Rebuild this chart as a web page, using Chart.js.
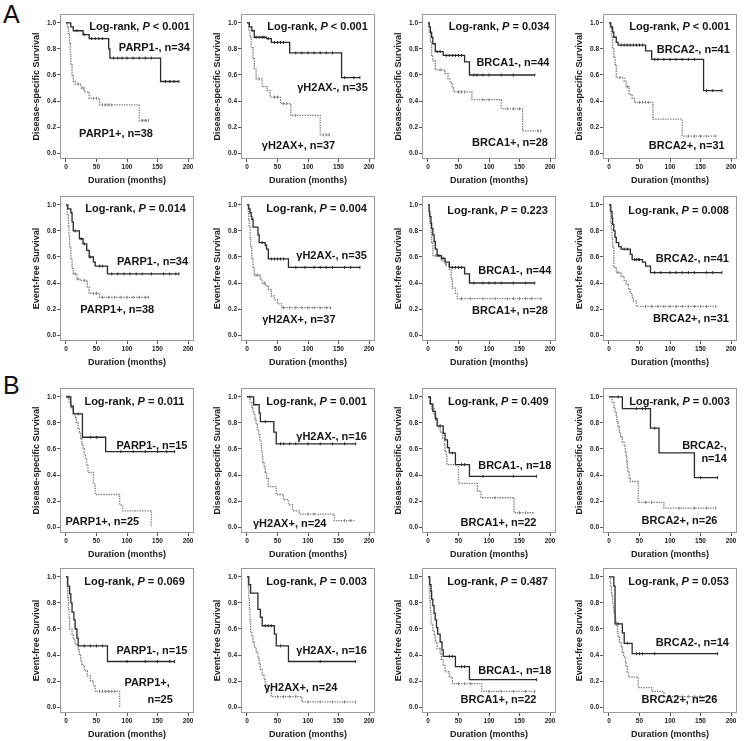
<!DOCTYPE html>
<html><head><meta charset="utf-8">
<script src="https://cdn.jsdelivr.net/npm/chart.js@4/dist/chart.umd.min.js"></script>
<style>
html,body{margin:0;padding:0;background:#fff;}
#wrap{position:relative;width:744px;height:741px;overflow:hidden;font-family:"Liberation Sans",Arial,sans-serif;}
.plabel{position:absolute;font-size:25px;line-height:25px;color:#111;}
canvas{position:absolute;}
</style></head><body><div id="wrap"><div class="plabel" style="left:3px;top:2px">A</div><div class="plabel" style="left:3px;top:373px">B</div></div>
<script>
// ---------- tick labels & categories ----------
const xTicks = [0, 50, 100, 150, 200];
const yTicks = [0, 0.2, 0.4, 0.6, 0.8, 1.0];
const markers = ['PARP1', 'γH2AX', 'BRCA1', 'BRCA2'];
const nNegA = [34, 35, 44, 41];
const nPosA = [38, 37, 28, 31];
const nNegB = [15, 16, 18, 14];
const nPosB = [25, 24, 22, 26];
const pDssA = ['< 0.001', '< 0.001', '= 0.034', '< 0.001'];
const pEfsA = ['= 0.014', '= 0.004', '= 0.223', '= 0.008'];
const pDssB = ['= 0.011', '= 0.001', '= 0.409', '= 0.003'];
const pEfsB = ['= 0.069', '= 0.003', '= 0.487', '= 0.053'];

// ---------- Kaplan-Meier curves: [months, survival] ----------
// A: disease-specific survival
const dssA_PARP1_neg = [[0,1],[8,0.97],[12,0.94],[28,0.91],[38,0.88],[70,0.80],[72,0.73],[155,0.55],[185,0.55]];
const dssA_PARP1_negC = [18,30,42,48,54,60,78,85,92,100,110,120,130,140,163,170,177,185];
const dssA_PARP1_pos = [[0,1],[2,0.97],[4,0.92],[6,0.84],[7,0.76],[8,0.68],[10,0.60],[12,0.55],[15,0.53],[25,0.50],[30,0.47],[38,0.42],[55,0.37],[120,0.25],[135,0.25]];
const dssA_PARP1_posC = [20,28,45,50,60,65,70,75,125,130,135];
const dssA_H2AX_neg = [[0,1],[4,0.97],[8,0.94],[12,0.89],[32,0.88],[40,0.85],[70,0.77],[155,0.58],[185,0.58]];
const dssA_H2AX_negC = [15,20,25,28,35,45,50,55,60,80,90,100,110,120,130,140,160,175,185];
const dssA_H2AX_pos = [[0,1],[3,0.95],[5,0.89],[7,0.81],[10,0.73],[12,0.65],[15,0.57],[25,0.51],[33,0.48],[38,0.43],[55,0.38],[72,0.29],[120,0.14],[135,0.14]];
const dssA_H2AX_posC = [20,45,50,60,65,80,125,130,135];
const dssA_BRCA1_neg = [[0,1],[2,0.97],[4,0.93],[6,0.89],[8,0.84],[12,0.78],[25,0.75],[60,0.70],[68,0.60],[175,0.60]];
const dssA_BRCA1_negC = [15,20,30,35,40,45,50,55,75,80,90,100,120,140,175];
const dssA_BRCA1_pos = [[0,1],[2,0.93],[4,0.86],[6,0.75],[8,0.71],[12,0.64],[28,0.61],[33,0.57],[36,0.54],[40,0.51],[42,0.47],[72,0.41],[120,0.34],[155,0.17],[185,0.17]];
const dssA_BRCA1_posC = [20,50,55,60,90,100,130,140,150,180,185];
const dssA_BRCA2_neg = [[0,1],[3,0.97],[6,0.93],[8,0.89],[12,0.85],[15,0.83],[60,0.785],[70,0.72],[155,0.48],[185,0.48]];
const dssA_BRCA2_negC = [20,25,30,35,40,45,50,55,75,80,90,100,110,120,130,140,160,170,185];
const dssA_BRCA2_pos = [[0,1],[2,0.97],[4,0.90],[6,0.80],[8,0.74],[10,0.68],[12,0.58],[25,0.55],[28,0.51],[33,0.45],[38,0.42],[42,0.39],[72,0.26],[120,0.13],[175,0.13]];
const dssA_BRCA2_posC = [18,30,50,55,60,65,130,140,150,160,175];
// A: event-free survival
const efsA_PARP1_neg = [[0,1],[3,0.97],[8,0.94],[10,0.87],[12,0.80],[22,0.74],[28,0.70],[34,0.65],[38,0.60],[45,0.56],[48,0.53],[68,0.47],[185,0.47]];
const efsA_PARP1_negC = [15,25,30,40,55,60,75,85,95,105,115,125,140,160,170,180,185];
const efsA_PARP1_pos = [[0,1],[2,0.92],[4,0.84],[5,0.76],[6,0.68],[8,0.58],[10,0.51],[12,0.47],[18,0.43],[25,0.42],[35,0.37],[38,0.32],[55,0.29],[135,0.29]];
const efsA_PARP1_posC = [15,20,30,45,50,60,70,80,90,100,110,120,130,135];
const efsA_H2AX_neg = [[0,1],[3,0.97],[5,0.94],[7,0.91],[8,0.89],[10,0.83],[18,0.77],[20,0.71],[30,0.69],[32,0.66],[35,0.585],[68,0.52],[185,0.52]];
const efsA_H2AX_negC = [25,40,45,50,55,60,80,95,110,120,130,140,160,170,185];
const efsA_H2AX_pos = [[0,1],[2,0.95],[3,0.89],[4,0.83],[5,0.75],[6,0.68],[8,0.59],[10,0.52],[12,0.46],[22,0.43],[25,0.40],[30,0.38],[35,0.35],[40,0.30],[45,0.27],[50,0.24],[57,0.21],[137,0.21]];
const efsA_H2AX_posC = [15,18,28,60,70,80,90,100,110,120,130,137];
const efsA_BRCA1_neg = [[0,1],[2,0.95],[3,0.91],[5,0.86],[6,0.82],[8,0.77],[10,0.72],[12,0.66],[15,0.61],[22,0.59],[28,0.56],[35,0.52],[60,0.47],[68,0.40],[175,0.40]];
const efsA_BRCA1_negC = [18,25,40,45,50,55,75,90,100,110,120,140,160,175];
const efsA_BRCA1_pos = [[0,1],[2,0.93],[3,0.86],[5,0.79],[6,0.71],[8,0.61],[22,0.57],[28,0.54],[35,0.50],[38,0.43],[40,0.36],[45,0.32],[48,0.28],[185,0.28]];
const efsA_BRCA1_posC = [12,15,18,30,55,70,90,110,130,140,150,160,170,185];
const efsA_BRCA2_neg = [[0,1],[3,0.95],[5,0.90],[6,0.85],[8,0.80],[10,0.75],[12,0.71],[16,0.68],[20,0.66],[35,0.62],[38,0.58],[55,0.56],[60,0.53],[68,0.48],[185,0.48]];
const efsA_BRCA2_negC = [25,30,42,45,48,50,75,85,100,110,120,130,140,160,170,185];
const efsA_BRCA2_pos = [[0,1],[2,0.94],[3,0.87],[4,0.81],[5,0.74],[6,0.68],[8,0.52],[12,0.48],[20,0.45],[25,0.42],[28,0.39],[32,0.35],[35,0.32],[38,0.29],[40,0.26],[45,0.22],[175,0.22]];
const efsA_BRCA2_posC = [15,60,70,80,90,100,110,120,130,140,150,160,175];
// B: disease-specific survival
const dssB_PARP1_neg = [[0,1],[8,0.93],[12,0.87],[27,0.69],[65,0.58],[178,0.58]];
const dssB_PARP1_negC = [5,20,40,50,90,110,130,150,165,178];
const dssB_PARP1_pos = [[0,1],[5,0.96],[8,0.92],[12,0.88],[15,0.84],[17,0.80],[20,0.76],[22,0.72],[24,0.68],[26,0.64],[28,0.60],[30,0.56],[32,0.52],[34,0.48],[36,0.42],[45,0.33],[48,0.25],[88,0.17],[93,0.125],[140,0]];
const dssB_PARP1_posC = [3,10];
const dssB_H2AX_neg = [[0,1],[11,0.94],[20,0.875],[22,0.81],[44,0.73],[48,0.64],[178,0.64]];
const dssB_H2AX_negC = [5,30,55,60,70,80,100,120,140,160,178];
const dssB_H2AX_pos = [[0,1],[5,0.96],[8,0.92],[10,0.875],[13,0.83],[15,0.79],[17,0.75],[19,0.71],[21,0.67],[23,0.625],[24,0.58],[25,0.54],[26,0.50],[28,0.46],[30,0.42],[32,0.375],[35,0.31],[48,0.25],[60,0.21],[68,0.17],[75,0.125],[86,0.10],[143,0.05],[176,0.05]];
const dssB_H2AX_posC = [100,110,160,170];
const dssB_BRCA1_neg = [[0,1],[4,0.944],[8,0.889],[12,0.833],[15,0.778],[25,0.72],[28,0.67],[32,0.61],[35,0.57],[45,0.48],[68,0.39],[178,0.39]];
const dssB_BRCA1_negC = [20,40,55,60,90,140,178];
const dssB_BRCA1_pos = [[0,1],[3,0.95],[6,0.91],[10,0.86],[13,0.82],[16,0.77],[20,0.73],[24,0.68],[27,0.64],[28,0.59],[30,0.55],[31,0.48],[50,0.335],[81,0.276],[87,0.225],[141,0.11],[175,0.11]];
const dssB_BRCA1_posC = [110,150,160];
const dssB_BRCA2_neg = [[0,1],[22,0.91],[68,0.76],[82,0.57],[140,0.38],[178,0.38]];
const dssB_BRCA2_negC = [15,45,55,60,75,150,178];
const dssB_BRCA2_pos = [[0,1],[5,0.96],[8,0.92],[10,0.88],[12,0.85],[13,0.81],[15,0.77],[17,0.73],[19,0.69],[22,0.65],[25,0.62],[27,0.58],[28,0.54],[29,0.50],[30,0.46],[31,0.42],[33,0.38],[35,0.35],[48,0.19],[90,0.145],[175,0.145]];
const dssB_BRCA2_posC = [60,70,115,140,160,175];
// B: event-free survival
const efsB_PARP1_neg = [[0,1],[3,0.93],[6,0.87],[8,0.80],[10,0.73],[13,0.67],[15,0.60],[18,0.53],[20,0.47],[68,0.35],[178,0.35]];
const efsB_PARP1_negC = [30,40,50,60,100,130,150,170,178];
const efsB_PARP1_pos = [[0,1],[2,0.92],[3,0.84],[4,0.76],[5,0.68],[6,0.60],[10,0.56],[12,0.52],[15,0.48],[20,0.44],[22,0.40],[24,0.36],[26,0.32],[30,0.28],[35,0.24],[40,0.20],[45,0.16],[48,0.12],[88,0]];
const efsB_PARP1_posC = [55,60,65,70,75,80];
const efsB_H2AX_neg = [[0,1],[3,0.94],[6,0.875],[18,0.75],[22,0.69],[25,0.625],[45,0.56],[48,0.47],[68,0.35],[178,0.35]];
const efsB_H2AX_negC = [30,35,40,55,120,178];
const efsB_H2AX_pos = [[0,1],[2,0.92],[3,0.83],[4,0.75],[5,0.67],[6,0.58],[8,0.54],[10,0.50],[12,0.46],[15,0.42],[18,0.375],[20,0.33],[22,0.29],[25,0.25],[28,0.21],[30,0.17],[35,0.125],[40,0.08],[90,0.04],[178,0.04]];
const efsB_H2AX_posC = [50,60,70,80,100,120,140,160,178];
const efsB_BRCA1_neg = [[0,1],[3,0.94],[5,0.89],[6,0.83],[8,0.78],[10,0.72],[12,0.67],[14,0.61],[16,0.56],[20,0.50],[23,0.44],[25,0.39],[45,0.31],[68,0.21],[178,0.21]];
const efsB_BRCA1_negC = [35,40,55,60,178];
const efsB_BRCA1_pos = [[0,1],[2,0.91],[3,0.82],[4,0.73],[5,0.64],[8,0.59],[10,0.55],[12,0.50],[15,0.45],[20,0.41],[22,0.36],[25,0.32],[28,0.27],[35,0.23],[40,0.18],[88,0.12],[175,0.12]];
const efsB_BRCA1_posC = [50,60,70,100,120,140,160,175];
const efsB_BRCA2_neg = [[0,1],[8,0.93],[10,0.64],[22,0.57],[25,0.49],[38,0.41],[178,0.41]];
const efsB_BRCA2_negC = [15,30,45,50,55,75,178];
const efsB_BRCA2_pos = [[0,1],[2,0.96],[3,0.92],[4,0.88],[5,0.85],[6,0.81],[7,0.77],[8,0.73],[10,0.69],[11,0.65],[12,0.62],[14,0.58],[15,0.54],[17,0.50],[20,0.46],[22,0.42],[24,0.385],[27,0.35],[28,0.31],[30,0.27],[32,0.23],[48,0.15],[70,0.12],[90,0.08],[175,0.08]];
const efsB_BRCA2_posC = [120,130,140,150,175];

// ---------- layout (pixels / label anchor positions, not data) ----------
const colLeft = [60, 241, 422, 603];
const rowTop = [13, 195, 387, 567];
const BOX_W = 134, BOX_H = 146;
const labelPos = [
  {lr:[203,0.97], neg:[[203,0.81,'r']], pos:[[82,0.15,'c']]},
  {lr:[198,0.97], neg:[[198,0.50,'r']], pos:[[84.5,0.055,'c']]},
  {lr:[199,0.97], neg:[[199,0.69,'r']], pos:[[196.5,0.074,'r']]},
  {lr:[198,0.97], neg:[[198,0.79,'r']], pos:[[189.5,0.056,'r']]},
  {lr:[196.5,0.972], neg:[[200,0.56,'r']], pos:[[84,0.19,'c']]},
  {lr:[196.5,0.97], neg:[[196.5,0.61,'r']], pos:[[85,0.115,'c']]},
  {lr:[196.5,0.954], neg:[[202,0.49,'r']], pos:[[196.5,0.183,'r']]},
  {lr:[196.5,0.954], neg:[[196.5,0.585,'r']], pos:[[196.5,0.127,'r']]},
  {lr:[194,0.965], neg:[[199,0.62,'r']], pos:[[59.5,0.036,'c']]},
  {lr:[196.5,0.965], neg:[[196.5,0.69,'r']], pos:[[70,0.024,'c']]},
  {lr:[197.5,0.965], neg:[[202,0.468,'r']], pos:[[115.5,0.03,'c']]},
  {lr:[198,0.965], neg:[[193,0.625,'r'],[193,0.52,'r']], pos:[[115.5,0.043,'c']]},
  {lr:[194.7,0.96], neg:[[199,0.43,'r']], pos:[[170,0.186,'r'],[175,0.056,'r']]},
  {lr:[196.5,0.96], neg:[[196.5,0.43,'r']], pos:[[88,0.145,'c']]},
  {lr:[196.5,0.96], neg:[[202,0.28,'r']], pos:[[115.5,0.058,'c']]},
  {lr:[196.5,0.96], neg:[[196.5,0.49,'r']], pos:[[177.5,0.058,'r']]}
];

const FONT = '"Liberation Sans", Arial, Helvetica, sans-serif';
const SOLID = '#2a2a2a', DOT = '#7c7c7c', FRAME = '#9a9a9a', TXT = '#151515';

const curveRows = [
  {title:'Disease-specific Survival', p:pDssA, nNeg:nNegA, nPos:nPosA,
   curves:[[dssA_PARP1_neg,dssA_PARP1_negC,dssA_PARP1_pos,dssA_PARP1_posC],[dssA_H2AX_neg,dssA_H2AX_negC,dssA_H2AX_pos,dssA_H2AX_posC],[dssA_BRCA1_neg,dssA_BRCA1_negC,dssA_BRCA1_pos,dssA_BRCA1_posC],[dssA_BRCA2_neg,dssA_BRCA2_negC,dssA_BRCA2_pos,dssA_BRCA2_posC]]},
  {title:'Event-free Survival', p:pEfsA, nNeg:nNegA, nPos:nPosA,
   curves:[[efsA_PARP1_neg,efsA_PARP1_negC,efsA_PARP1_pos,efsA_PARP1_posC],[efsA_H2AX_neg,efsA_H2AX_negC,efsA_H2AX_pos,efsA_H2AX_posC],[efsA_BRCA1_neg,efsA_BRCA1_negC,efsA_BRCA1_pos,efsA_BRCA1_posC],[efsA_BRCA2_neg,efsA_BRCA2_negC,efsA_BRCA2_pos,efsA_BRCA2_posC]]},
  {title:'Disease-specific Survival', p:pDssB, nNeg:nNegB, nPos:nPosB,
   curves:[[dssB_PARP1_neg,dssB_PARP1_negC,dssB_PARP1_pos,dssB_PARP1_posC],[dssB_H2AX_neg,dssB_H2AX_negC,dssB_H2AX_pos,dssB_H2AX_posC],[dssB_BRCA1_neg,dssB_BRCA1_negC,dssB_BRCA1_pos,dssB_BRCA1_posC],[dssB_BRCA2_neg,dssB_BRCA2_negC,dssB_BRCA2_pos,dssB_BRCA2_posC]]},
  {title:'Event-free Survival', p:pEfsB, nNeg:nNegB, nPos:nPosB,
   curves:[[efsB_PARP1_neg,efsB_PARP1_negC,efsB_PARP1_pos,efsB_PARP1_posC],[efsB_H2AX_neg,efsB_H2AX_negC,efsB_H2AX_pos,efsB_H2AX_posC],[efsB_BRCA1_neg,efsB_BRCA1_negC,efsB_BRCA1_pos,efsB_BRCA1_posC],[efsB_BRCA2_neg,efsB_BRCA2_negC,efsB_BRCA2_pos,efsB_BRCA2_posC]]}
];

function survAt(curve, t) { let s = curve[0][1]; for (const [tt, ss] of curve) { if (tt <= t) s = ss; } return s; }
function pts(curve) { return curve.map(([x, y]) => ({x, y})); }

function drawParts(ctx, parts, x, y, align) {
  let w = 0;
  parts.forEach(p => { ctx.font = (p.it ? 'italic ' : '') + 'bold 11px ' + FONT; p.w = ctx.measureText(p.t).width; w += p.w; });
  let sx = align === 'r' ? x - w : (align === 'c' ? x - w / 2 : x);
  parts.forEach(p => { ctx.font = (p.it ? 'italic ' : '') + 'bold 11px ' + FONT; ctx.fillText(p.t, sx, y); sx += p.w; });
}

const wrap = document.getElementById('wrap');
curveRows.forEach((R, r) => {
  for (let c = 0; c < 4; c++) {
    const [neg, negC, pos, posC] = R.curves[c];
    const L = labelPos[r * 4 + c];
    const m = markers[c];
    let negLines = [m + '-, n=' + R.nNeg[c]];
    let posLines = [m + '+, n=' + R.nPos[c]];
    if (L.neg.length === 2) negLines = [m + '-,', 'n=' + R.nNeg[c]];
    if (L.pos.length === 2) posLines = [m + '+,', 'n=' + R.nPos[c]];
    const pval = R.p[c];

    const cv = document.createElement('canvas');
    const W = BOX_W + 36 + 8, H = BOX_H + 4 + 32;
    cv.width = W; cv.height = H;
    cv.style.left = (colLeft[c] - 36) + 'px';
    cv.style.top = (rowTop[r] - 4) + 'px';
    cv.style.width = W + 'px'; cv.style.height = H + 'px';
    wrap.appendChild(cv);

    const plug = {
      id: 'kmframe' + r + c,
      beforeDatasetsDraw(chart) {
        const {ctx, chartArea: a} = chart;
        ctx.save();
        ctx.strokeStyle = FRAME; ctx.lineWidth = 1;
        ctx.strokeRect(Math.round(a.left) + 0.5, Math.round(a.top) + 0.5, Math.round(a.right - a.left) - 1, Math.round(a.bottom - a.top) - 1);
        ctx.restore();
      },
      afterDatasetsDraw(chart) {
        const {ctx} = chart;
        const xs = chart.scales.x, ys = chart.scales.y;
        ctx.save();
        ctx.fillStyle = TXT; ctx.textBaseline = 'middle';
        drawParts(ctx, [{t:'Log-rank, '}, {t:'P', it:true}, {t:' ' + pval}], xs.getPixelForValue(L.lr[0]), ys.getPixelForValue(L.lr[1]), 'r');
        L.neg.forEach((q, i) => drawParts(ctx, [{t:negLines[i]}], xs.getPixelForValue(q[0]), ys.getPixelForValue(q[1]), q[2]));
        L.pos.forEach((q, i) => drawParts(ctx, [{t:posLines[i]}], xs.getPixelForValue(q[0]), ys.getPixelForValue(q[1]), q[2]));
        ctx.restore();
      }
    };

    new Chart(cv, {
      type: 'line',
      data: { datasets: [
        {data: pts(neg), stepped: true, borderColor: SOLID, borderWidth: 1.3, pointRadius: 0, fill: false},
        {data: pts(pos), stepped: true, borderColor: DOT, borderWidth: 1.3, borderDash: [1.4, 1.1], pointRadius: 0, fill: false},
        {data: negC.map(t => ({x: t, y: survAt(neg, t)})), showLine: false, pointStyle: 'line', pointRotation: 90, pointRadius: 1.5, pointBorderWidth: 1, pointBorderColor: SOLID, borderColor: SOLID},
        {data: posC.map(t => ({x: t, y: survAt(pos, t)})), showLine: false, pointStyle: 'line', pointRotation: 90, pointRadius: 1.5, pointBorderWidth: 1, pointBorderColor: DOT, borderColor: DOT}
      ]},
      options: {
        responsive: false, animation: false, devicePixelRatio: 1, events: [],
        layout: {padding: {left: 2, top: 4, right: 8, bottom: 2}},
        plugins: {legend: {display: false}, tooltip: {enabled: false}},
        scales: {
          x: {
            type: 'linear', min: -9.75, max: 209.75,
            afterBuildTicks: s => { s.ticks = xTicks.map(v => ({value: v})); },
            afterFit: s => { s.height = 30; },
            ticks: {font: {family: FONT, size: 6.5, weight: 'bold'}, color: '#222', padding: 1, maxRotation: 0, autoSkip: false},
            grid: {display: true, drawOnChartArea: false, drawTicks: true, tickLength: 3, color: '#555', lineWidth: 1},
            border: {display: false},
            title: {display: true, text: 'Duration (months)', font: {family: FONT, size: 9, weight: 'bold'}, color: '#222', padding: {top: 0, bottom: 2.6}}
          },
          y: {
            type: 'linear', min: -0.0458, max: 1.0687,
            afterBuildTicks: s => { s.ticks = yTicks.map(v => ({value: v})); },
            afterFit: s => { s.width = 34; },
            ticks: {font: {family: FONT, size: 6.5, weight: 'bold'}, color: '#222', padding: 1, autoSkip: false, callback: v => Number(v).toFixed(1)},
            grid: {display: true, drawOnChartArea: false, drawTicks: true, tickLength: 3, color: '#555', lineWidth: 1},
            border: {display: false},
            title: {display: true, text: R.title, font: {family: FONT, size: 9, weight: 'bold'}, color: '#222', padding: {top: 5.6, bottom: 0}}
          }
        }
      },
      plugins: [plug]
    });
  }
});
</script>
</body></html>
